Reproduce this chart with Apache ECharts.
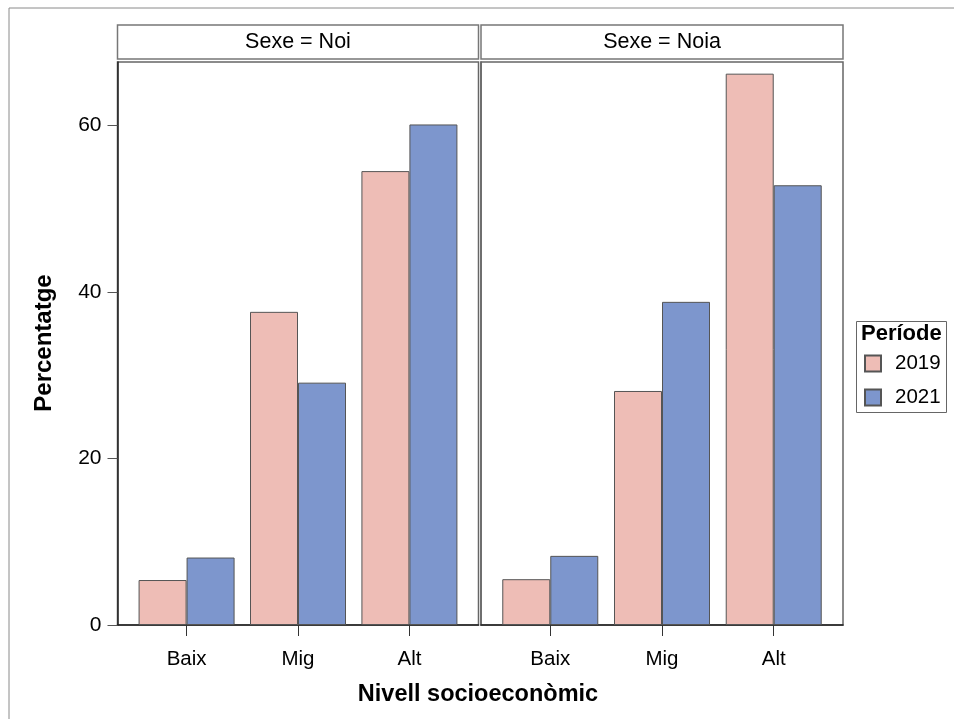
<!DOCTYPE html>
<html>
<head>
<meta charset="utf-8">
<script src="https://cdn.jsdelivr.net/npm/echarts@6/dist/echarts.min.js"></script>
<style>
html,body{margin:0;padding:0;background:#fff;}
#c{width:954px;height:719px;}
</style>
</head>
<body>
<div id="c"></div>
<script>
const categories = ['Baix', 'Mig', 'Alt'];
const panels = ['Sexe = Noi', 'Sexe = Noia'];
const periods = ['2019', '2021'];
const noi2019 = [5.4, 37.6, 54.5];
const noi2021 = [8.1, 29.1, 60.1];
const noia2019 = [5.5, 28.1, 66.2];
const noia2021 = [8.3, 38.8, 52.8];
const yTicks = [0, 20, 40, 60];

const FONT = '"Liberation Sans", Arial, sans-serif';
const colors = ['#EEBDB6', '#7D96CD'];

const chart = echarts.init(document.getElementById('c'), null, {renderer: 'canvas'});

const grids = [
  {left: 117.5, top: 62, width: 361, height: 563},
  {left: 481, top: 62, width: 362, height: 563}
];

function xAxis(i) {
  return {
    type: 'value', gridIndex: i, min: -0.62, max: 2.62,
    axisLine: {show: true, onZero: false, lineStyle: {color: '#222', width: 1.5}},
    axisTick: {show: true, length: 11, customValues: [0, 1, 2], lineStyle: {color: '#333'}},
    axisLabel: {show: true, customValues: [0, 1, 2], margin: 24, fontSize: 20.5, color: '#000', fontFamily: FONT,
      formatter: v => categories[Math.round(v)]},
    splitLine: {show: false}
  };
}
function yAxis(i) {
  return {
    type: 'value', gridIndex: i, min: 0, max: 67.6,
    axisLine: {show: true, onZero: false, lineStyle: {color: i === 0 ? '#222' : '#666', width: 1.5}},
    axisTick: {show: i === 0, length: 10, customValues: yTicks, lineStyle: {color: '#555'}},
    axisLabel: {show: i === 0, customValues: yTicks, margin: 16, fontSize: 21, color: '#000', fontFamily: FONT},
    splitLine: {show: false}
  };
}

function barSeries(name, vals, gi, ci) {
  return {
    name: name, type: 'bar', xAxisIndex: gi, yAxisIndex: gi,
    data: vals.map((v, k) => [k, v]),
    barWidth: 48, barGap: '0%',
    itemStyle: {color: colors[ci], borderColor: '#555', borderWidth: 1},
    emphasis: {disabled: true}
  };
}

const graphics = [
  {type: 'rect', shape: {x: 9, y: 8, width: 1200, height: 1000}, style: {fill: 'none', stroke: '#8a8a8a', lineWidth: 1}, silent: true}
];
panels.forEach((p, i) => {
  const g = grids[i];
  graphics.push({type: 'rect', shape: {x: g.left, y: 25, width: g.width, height: 34},
    style: {fill: '#fff', stroke: '#777', lineWidth: 1.5}});
  graphics.push({type: 'text', x: g.left + g.width / 2, y: 42,
    style: {text: p, font: '21.5px ' + FONT, fill: '#000', align: 'center', verticalAlign: 'middle'}});
});
graphics.push({type: 'text', x: 44, y: 343, rotation: Math.PI / 2,
  style: {text: 'Percentatge', font: 'bold 24px ' + FONT, fill: '#000', align: 'center', verticalAlign: 'middle'}});
graphics.push({type: 'text', x: 478, y: 695,
  style: {text: 'Nivell socioeconòmic', font: 'bold 23.5px ' + FONT, fill: '#000', align: 'center', verticalAlign: 'middle'}});
graphics.push({type: 'rect', shape: {x: 856.5, y: 321.5, width: 90, height: 91},
  style: {fill: '#fff', stroke: '#666', lineWidth: 1}});
graphics.push({type: 'text', x: 861, y: 334,
  style: {text: 'Període', font: 'bold 22px ' + FONT, fill: '#000', align: 'left', verticalAlign: 'middle'}});

chart.setOption({
  animation: false,
  backgroundColor: '#fff',
  grid: grids.map(g => Object.assign({show: true, borderColor: '#666', borderWidth: 1.5, backgroundColor: 'transparent'}, g)),
  xAxis: [xAxis(0), xAxis(1)],
  yAxis: [yAxis(0), yAxis(1)],
  legend: {
    show: true, orient: 'vertical', left: 864, top: 353, padding: 0, itemWidth: 16, itemHeight: 16, itemGap: 13,
    icon: 'rect', data: periods, z: 10,
    textStyle: {fontSize: 20.5, color: '#000', fontFamily: FONT, padding: [0, 0, 0, 9]}
  },
  graphic: graphics,
  series: [
    barSeries(periods[0], noi2019, 0, 0),
    barSeries(periods[1], noi2021, 0, 1),
    barSeries(periods[0], noia2019, 1, 0),
    barSeries(periods[1], noia2021, 1, 1)
  ]
});
</script>
</body>
</html>
